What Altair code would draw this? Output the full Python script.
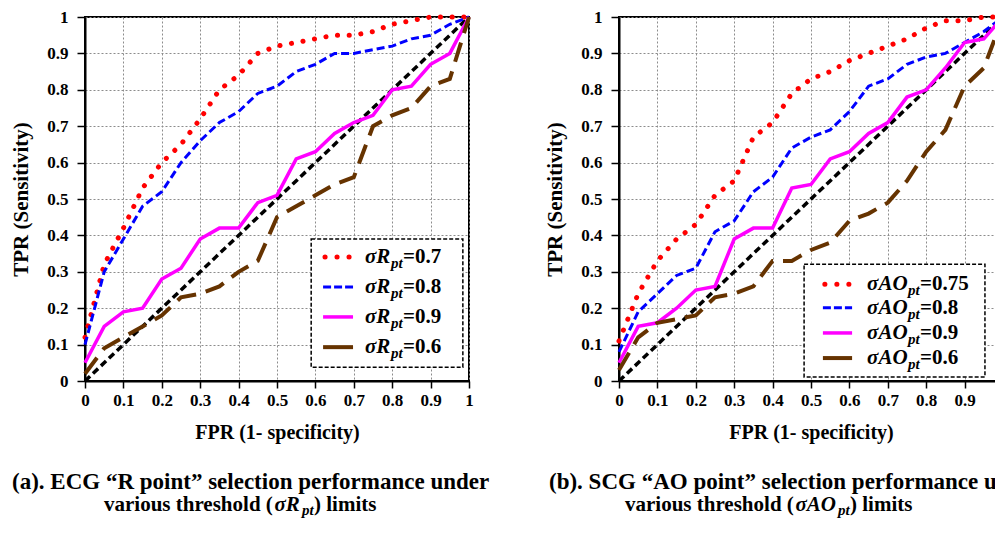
import altair as alt
import pandas as pd

# ---------------- data ----------------
FPR = [0.00, 0.05, 0.10, 0.15, 0.20, 0.25, 0.30, 0.35, 0.40, 0.45, 0.50,
       0.55, 0.60, 0.65, 0.70, 0.75, 0.80, 0.85, 0.90, 0.95, 1.00]

# (a) ECG R point
ecg_r07 = [0.12, 0.32, 0.42, 0.53, 0.60, 0.65, 0.72, 0.80, 0.84, 0.90, 0.92,
           0.93, 0.94, 0.95, 0.95, 0.96, 0.98, 0.99, 1.00, 1.00, 1.00]
ecg_r08 = [0.10, 0.30, 0.39, 0.48, 0.52, 0.60, 0.66, 0.71, 0.74, 0.79, 0.81,
           0.85, 0.87, 0.90, 0.90, 0.91, 0.92, 0.94, 0.95, 0.98, 1.00]
ecg_r09 = [0.05, 0.15, 0.19, 0.20, 0.28, 0.31, 0.39, 0.42, 0.42, 0.49, 0.51,
           0.61, 0.63, 0.68, 0.71, 0.73, 0.80, 0.81, 0.87, 0.90, 1.00]
ecg_r06 = [0.02, 0.09, 0.12, 0.15, 0.18, 0.23, 0.24, 0.26, 0.30, 0.33, 0.45,
           0.48, 0.51, 0.54, 0.56, 0.70, 0.73, 0.75, 0.81, 0.83, 1.00]

# (b) SCG AO point
scg_ao075 = [0.11, 0.24, 0.33, 0.39, 0.43, 0.51, 0.55, 0.67, 0.71, 0.79, 0.83,
             0.85, 0.88, 0.90, 0.92, 0.94, 0.97, 0.99, 0.99, 1.00, 1.00]
scg_ao08 = [0.08, 0.19, 0.24, 0.29, 0.31, 0.41, 0.44, 0.52, 0.56, 0.64, 0.67,
            0.69, 0.74, 0.81, 0.83, 0.87, 0.89, 0.90, 0.93, 0.96, 1.00]
scg_ao09 = [0.05, 0.15, 0.16, 0.20, 0.25, 0.26, 0.39, 0.42, 0.42, 0.53, 0.54,
            0.61, 0.63, 0.68, 0.71, 0.78, 0.80, 0.86, 0.93, 0.94, 1.00]
scg_ao06 = [0.03, 0.12, 0.16, 0.17, 0.18, 0.23, 0.24, 0.26, 0.33, 0.33, 0.36,
            0.38, 0.44, 0.46, 0.49, 0.55, 0.63, 0.69, 0.81, 0.86, 1.00]

DIAG_X = [0, 1]
DIAG_Y = [0, 1]

TICKS = [0, 0.1, 0.2, 0.3, 0.4, 0.5, 0.6, 0.7, 0.8, 0.9, 1]

ecg_symbol = "σR"
scg_symbol = "σAO"
subscript = "pt"
ecg_legend_values = ["=0.7", "=0.8", "=0.9", "=0.6"]
scg_legend_values = ["=0.75", "=0.8", "=0.9", "=0.6"]

x_title = "FPR (1- specificity)"
y_title = "TPR (Sensitivity)"

ecg_caption1 = "(a). ECG \u201cR point\u201d selection performance under"
scg_caption1 = "(b). SCG \u201cAO point\u201d selection performance under"
caption2_pre = "various threshold ("
caption2_post = ") limits"

# ---------------- styling ----------------
FONT = "Liberation Serif"
W, H = 384, 364

STYLES = [
    dict(color="#FF0000", strokeWidth=5, strokeDash=[0.1, 11.6], strokeCap="round"),
    dict(color="#0000FF", strokeWidth=3, strokeDash=[8, 4]),
    dict(color="#FF00FF", strokeWidth=3.5),
    dict(color="#663300", strokeWidth=4, strokeDash=[20, 10]),
]
LEGEND_STYLES = [
    dict(color="#FF0000", strokeWidth=5, strokeDash=[0.1, 11.9], strokeCap="round"),
    dict(color="#0000FF", strokeWidth=3, strokeDash=[8, 3]),
    dict(color="#FF00FF", strokeWidth=3.5),
    dict(color="#663300", strokeWidth=4),
]

x_axis = alt.Axis(values=TICKS, format="~g", tickSize=7, labelPadding=4,
                  titleFontSize=20, titlePadding=14, labelFlush=False,
                  labelOverlap=False)
y_axis = alt.Axis(values=TICKS, format="~g", tickSize=8, labelPadding=9,
                  titleFontSize=21, titlePadding=15, labelOverlap=False)
xs = alt.Scale(domain=[0, 1], nice=False, zero=False)
ys = alt.Scale(domain=[0, 1], nice=False, zero=False)


def X(field="fpr"):
    return alt.X(f"{field}:Q", scale=xs, axis=x_axis, title=x_title)


def Y(field="tpr"):
    return alt.Y(f"{field}:Q", scale=ys, axis=y_axis, title=y_title)


def panel(series, symbol, legend_values, leg, cap1, cap1_x, cap2_x, sym_w):
    layers = []
    diag = pd.DataFrame({"fpr": DIAG_X, "tpr": DIAG_Y})
    layers.append(alt.Chart(diag).mark_line(color="black", strokeWidth=3.5,
                                            strokeDash=[7, 4]).encode(x=X(), y=Y()))
    for vals, st in zip(series, STYLES):
        df = pd.DataFrame({"fpr": FPR, "tpr": vals})
        layers.append(alt.Chart(df).mark_line(**st).encode(x=X(), y=Y()))

    # legend box
    box = pd.DataFrame({"fpr": [leg["box_x"][0]], "fpr2": [leg["box_x"][1]],
                        "tpr": [leg["box_y"][0]], "tpr2": [leg["box_y"][1]]})
    layers.append(alt.Chart(box).mark_rect(fill="white", stroke="black",
                                           strokeWidth=1.5, strokeDash=[4, 2]).encode(
        x=X(), x2="fpr2:Q", y=Y(), y2="tpr2:Q"))
    for i, st in enumerate(LEGEND_STYLES):
        x0, x1 = leg["dot_x"] if i == 0 else leg["line_x"]
        row = pd.DataFrame({"fpr": [x0], "fpr2": [x1], "tpr": [leg["rows"][i]]})
        layers.append(alt.Chart(row).mark_rule(**st).encode(x=X(), x2="fpr2:Q", y=Y()))
    txt = pd.DataFrame({"fpr": [leg["text_x"]] * 4, "tpr": leg["rows"],
                        "sym": [symbol] * 4, "sub": [subscript] * 4,
                        "val": legend_values})
    base = alt.Chart(txt)
    layers.append(base.mark_text(align="left", baseline="middle", font=FONT,
                                 fontSize=21, fontStyle="italic", fontWeight="bold",
                                 color="black").encode(x=X(), y=Y(), text="sym:N"))
    layers.append(base.mark_text(align="left", baseline="middle", font=FONT,
                                 fontSize=15, fontStyle="italic", fontWeight="bold",
                                 color="black", dx=sym_w, dy=6).encode(
        x=X(), y=Y(), text="sub:N"))
    layers.append(base.mark_text(align="left", baseline="middle", font=FONT,
                                 fontSize=21, fontWeight="bold", color="black",
                                 dx=sym_w + 12).encode(x=X(), y=Y(), text="val:N"))

    # captions
    one = pd.DataFrame({"t": [cap1]})
    layers.append(alt.Chart(one).mark_text(align="left", baseline="alphabetic",
                                           font=FONT, fontSize=23, fontWeight="bold",
                                           color="black").encode(
        x=alt.value(cap1_x), y=alt.value(472), text="t:N"))
    pre_w = 170.5
    pieces = [
        (caption2_pre, 21, "normal", 0, 0),
        (symbol, 21, "italic", pre_w, 0),
        (subscript, 15, "italic", pre_w + sym_w + 1.5, 4),
        (caption2_post, 21, "normal", pre_w + sym_w + 13.5, 0),
    ]
    for text, fs, style, off, dy in pieces:
        d = pd.DataFrame({"t": [text]})
        layers.append(alt.Chart(d).mark_text(align="left", baseline="alphabetic",
                                             font=FONT, fontSize=fs, fontStyle=style,
                                             fontWeight="bold", color="black",
                                             dy=dy).encode(
            x=alt.value(cap2_x + off), y=alt.value(494), text="t:N"))

    return alt.layer(*layers).properties(width=W, height=H)


ecg_leg = dict(box_x=[0.589, 0.984], box_y=[0.038, 0.39],
               rows=[0.341, 0.258, 0.176, 0.093],
               dot_x=[0.625, 0.688], line_x=[0.62, 0.698], text_x=0.729)
scg_leg = dict(box_x=[0.482, 0.953], box_y=[0.011, 0.321],
               rows=[0.266, 0.201, 0.132, 0.063],
               dot_x=[0.536, 0.599], line_x=[0.531, 0.607], text_x=0.646)

left = panel([ecg_r07, ecg_r08, ecg_r09, ecg_r06], ecg_symbol, ecg_legend_values,
             ecg_leg, ecg_caption1, -73, 19, 26)
right = panel([scg_ao075, scg_ao08, scg_ao09, scg_ao06], scg_symbol, scg_legend_values,
              scg_leg, scg_caption1, -70, 6, 41)

chart = alt.hconcat(left, right, spacing=150, bounds="flush").properties(
    autosize=alt.AutoSizeParams(type="none"),
    padding={"left": 77, "top": 9, "right": 910, "bottom": 499},
).configure_view(stroke="black", strokeWidth=2).configure_axis(
    labelFont=FONT, labelFontWeight="bold", labelFontSize=17, labelColor="black",
    titleFont=FONT, titleFontWeight="bold", titleColor="black",
    domainColor="black", domainWidth=2, tickColor="black", tickWidth=1.5,
    gridColor="#8c8c8c", gridDash=[2, 2], gridWidth=1,
)

chart.save("out.html", embed_options={"renderer": "svg", "actions": False})
